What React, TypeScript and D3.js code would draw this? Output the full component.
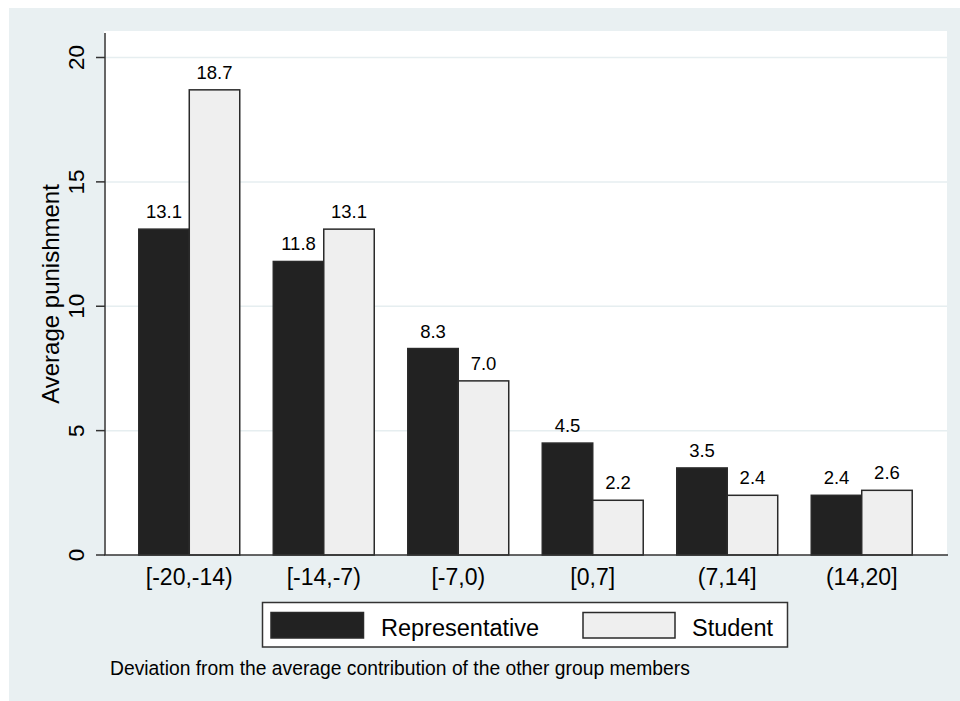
import React from 'react';
import * as d3 from 'd3';

const categories = ['[-20,-14)', '[-14,-7)', '[-7,0)', '[0,7]', '(7,14]', '(14,20]'];
const seriesNames = ['Representative', 'Student'];
const representative = [13.1, 11.8, 8.3, 4.5, 3.5, 2.4];
const student = [18.7, 13.1, 7.0, 2.2, 2.4, 2.6];
const yTicks = [0, 5, 10, 15, 20];

const W = 960;
const H = 701;
const FONT = '"Liberation Sans", Arial, Helvetica, sans-serif';
const colors: Record<string, string> = { Representative: '#222222', Student: '#efefef' };

export default function App() {
  const plot = { left: 104, right: 947, top: 31, bottom: 555 };

  const y = d3.scaleLinear().domain([0, 20]).range([plot.bottom, 57.5]);

  const x0 = d3.scaleBand<string>()
    .domain(categories)
    .range([plot.left, plot.right])
    .paddingInner(0)
    .paddingOuter(0.134);

  const x1 = d3.scaleBand<string>()
    .domain(seriesNames)
    .range([0, x0.bandwidth()])
    .paddingInner(0)
    .paddingOuter(0.332);

  const rows = categories.map((c, i) => ({
    cat: c,
    values: [
      { key: 'Representative', value: representative[i] },
      { key: 'Student', value: student[i] },
    ],
  }));

  return (
    <svg width={W} height={H} style={{ position: 'absolute', left: 0, top: 0 }} fontFamily={FONT}>
      <rect x={0} y={0} width={W} height={H} fill="#ffffff" />
      <rect x={9} y={8} width={W - 9} height={H - 8} fill="#e9f0f2" />
      <rect x={plot.left} y={plot.top} width={plot.right - plot.left} height={plot.bottom - plot.top} fill="#ffffff" />

      {/* gridlines */}
      {yTicks.filter(t => t > 0).map(t => (
        <line key={t} x1={plot.left} x2={plot.right} y1={y(t)} y2={y(t)} stroke="#e6eef0" strokeWidth={1.5} />
      ))}

      {/* bars */}
      {rows.map(r => (
        <g key={r.cat} transform={`translate(${x0(r.cat)},0)`}>
          {r.values.map(v => (
            <g key={v.key}>
              <rect
                x={x1(v.key)!}
                y={y(v.value)}
                width={x1.bandwidth()}
                height={y(0) - y(v.value)}
                fill={colors[v.key]}
                stroke="#2a2a2a"
                strokeWidth={1.5}
              />
              <text
                x={x1(v.key)! + x1.bandwidth() / 2}
                y={y(v.value) - 11}
                textAnchor="middle"
                fontSize={18.5}
                fill="#000"
              >
                {v.value.toFixed(1)}
              </text>
            </g>
          ))}
        </g>
      ))}

      {/* y axis */}
      <line x1={105} x2={105} y1={33} y2={plot.bottom} stroke="#333" strokeWidth={1.5} />
      {yTicks.map(t => (
        <g key={t} transform={`translate(0,${y(t)})`}>
          <line x1={96} x2={105} stroke="#333" strokeWidth={1.5} />
          <text transform="translate(84,0) rotate(-90)" textAnchor="middle" fontSize={22.5} fill="#000">
            {t}
          </text>
        </g>
      ))}
      <text transform={`translate(59,294) rotate(-90)`} textAnchor="middle" fontSize={24} fill="#000">
        Average punishment
      </text>

      {/* x axis */}
      <line x1={plot.left} x2={plot.right + 1} y1={plot.bottom} y2={plot.bottom} stroke="#333" strokeWidth={1.5} />
      {categories.map(c => (
        <text key={c} x={x0(c)! + x0.bandwidth() / 2} y={585} textAnchor="middle" fontSize={23} fill="#000">
          {c}
        </text>
      ))}

      {/* legend */}
      <rect x={262.5} y={602.5} width={525} height={44.5} fill="#ffffff" stroke="#333" strokeWidth={1.5} />
      <rect x={271} y={612.5} width={92.5} height={25.5} fill={colors.Representative} stroke="#2a2a2a" strokeWidth={1.5} />
      <text x={381} y={635.5} fontSize={23.5} fill="#000">Representative</text>
      <rect x={583} y={612.5} width={92} height={25.5} fill={colors.Student} stroke="#2a2a2a" strokeWidth={1.5} />
      <text x={692} y={635.5} fontSize={23.5} fill="#000">Student</text>

      {/* note */}
      <text x={110} y={675} fontSize={19.3} fill="#000">
        Deviation from the average contribution of the other group members
      </text>
    </svg>
  );
}
